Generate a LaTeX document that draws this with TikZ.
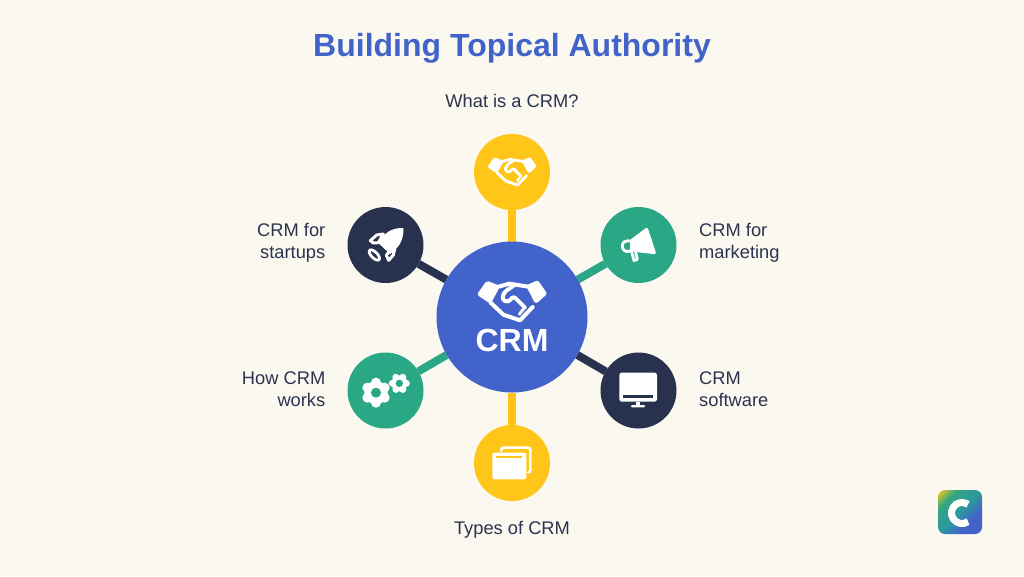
\documentclass[tikz,border=0pt]{standalone}
\usepackage{fontspec}
\setmainfont{Liberation Sans}
\usetikzlibrary{backgrounds}
\definecolor{bgc}{HTML}{FBF8F0}
\definecolor{crmblue}{HTML}{4263C9}
\definecolor{crmyellow}{HTML}{FFC519}
\definecolor{crmgreen}{HTML}{2AA785}
\definecolor{crmnavy}{HTML}{28324F}
\definecolor{txt}{HTML}{2B3350}
\pgfdeclarehorizontalshading{logoshade}{100bp}{rgb(0bp)=(1,.78,.1); rgb(15bp)=(1,.78,.1); rgb(30bp)=(.2,.65,.5); rgb(50bp)=(.17,.6,.62); rgb(66bp)=(.26,.39,.79); rgb(100bp)=(.26,.39,.79)}
\tikzset{
  hub/.style={circle,fill=#1,minimum size=76pt,inner sep=0pt,outer sep=0pt},
  link/.style={line width=8pt,draw=#1},
  lbl/.style={text=txt,font=\fontsize{18.3}{22}\selectfont,inner sep=0pt},
  wl/.style={draw=white,fill=none,line join=round,line cap=round},
}
\newcommand\hshake[3]{%
\begin{scope}[shift={(#1,#2)},scale=#3/3]
  \fill[white,draw=white,line width=#3*5pt,line join=round] (-73,-52)--(-46,-41)--(-67,-2)--(-95,-21)--cycle;
  \fill[white,draw=white,line width=#3*5pt,line join=round] (52,-43)--(75,-53)--(96,-23)--(73,-2)--cycle;
  \draw[wl,line width=#3*4pt] (-44,-42)--(-8,-52)--(49,-43);
  \draw[wl,line width=#3*4pt] (-64,5)--(-26,41)--(24,58)--(62,18);
  \draw[wl,line width=#3*4pt,rounded corners=#3*3pt] (6,-47)--(-24,-26)--(-30,-4)--(-11,4)--(4,-15)--(38,19);
  \draw[wl,line width=#3*3pt] (38,19)--(22,40);
\end{scope}}
\begin{document}
\begin{tikzpicture}[x=1pt,y=-1pt]
\useasboundingbox (0,0) rectangle (1024,576);
\node[hub=crmblue,minimum size=151pt] (crm) at (512,317) {};
\node[hub=crmyellow] (n1) at (512,172) {};
\node[hub=crmgreen] (n2) at (638.5,245) {};
\node[hub=crmnavy] (n3) at (638.5,390.5) {};
\node[hub=crmyellow] (n4) at (512,463) {};
\node[hub=crmgreen] (n5) at (385.5,390.5) {};
\node[hub=crmnavy] (n6) at (385.5,245) {};
\begin{scope}[on background layer]
  \fill[bgc] (0,0) rectangle (1024,576);
  \draw[link=crmyellow] (crm)--(n1);
  \draw[link=crmgreen] (crm)--(n2);
  \draw[link=crmnavy] (crm)--(n3);
  \draw[link=crmyellow] (crm)--(n4);
  \draw[link=crmgreen] (crm)--(n5);
  \draw[link=crmnavy] (crm)--(n6);
\end{scope}
% texts
\node[text=crmblue,font=\fontsize{32}{38}\selectfont\bfseries,inner sep=0pt] (title) at (512,48) {Building Topical Authority};
\node[text=white,font=\fontsize{32}{38}\selectfont\bfseries,inner sep=0pt] (crmt) at (512,340) {CRM};
\node[lbl] (t1) at (512,101) {What is a CRM?};
\node[lbl,anchor=west,align=left] (t2) at (699,243) {CRM for\\marketing};
\node[lbl,anchor=west,align=left] (t3) at (699,389) {CRM\\software};
\node[lbl] (t4) at (512,529.5) {Types of CRM};
\node[lbl,anchor=east,align=right] (t5) at (325.5,389) {How CRM\\works};
\node[lbl,anchor=east,align=right] (t6) at (325.5,243) {CRM for\\startups};
% handshakes
\hshake{512}{301}{1}
\hshake{512}{171.5}{0.7}
% rocket
\begin{scope}[shift={(340,200)},scale=1/3]
  \fill[white] (190,84) .. controls (155,83) and (132,98) .. (116,130) -- (150,162) .. controls (178,143) and (192,118) .. cycle;
  \draw[wl,line width=3pt] (91,122)--(110,105)--(130,102)--(115,128)--(100,129)--cycle;
  \draw[wl,line width=3pt] (164,147)--(160,165)--(146,181)--(139,166)--(145,158)--cycle;
  \draw[wl,line width=2.8pt] (103,165) ellipse[x radius=20,y radius=9,rotate=-45];
\end{scope}
% megaphone
\begin{scope}[shift={(595,200)},scale=1/3]
  \fill[white,draw=white,line width=3pt,line join=round] (110,122)--(155,88)--(178,158)--(110,150)--cycle;
  \draw[wl,line width=2.8pt] (110,124) .. controls (88,118) and (80,130) .. (82,141) .. controls (84,156) and (100,158) .. (110,150);
  \draw[wl,line width=2.8pt] (110,156)--(117,182)--(127,178)--(122,156);
\end{scope}
% gears
\begin{scope}[shift={(340,345)},scale=1/3]
  \fill[white] (108,143) circle (35);
  \foreach \a in {0,60,...,300} \fill[white] (108,143)+(\a+30:30) circle (15);
  \fill[crmgreen] (108,143) circle (15);
  \fill[white] (178,115) circle (24);
  \foreach \a in {0,60,...,300} \fill[white] (178,115)+(\a:21) circle (10.5);
  \fill[crmgreen] (178,115) circle (11);
\end{scope}
% monitor
\begin{scope}[shift={(595,345)},scale=1/3]
  \fill[white,rounded corners=2.5pt] (73,83) rectangle (186,170);
  \fill[crmnavy] (85,149) rectangle (175,158);
  \fill[white] (123,170) rectangle (135,181);
  \fill[white,rounded corners=1pt] (108,180) rectangle (150,187);
\end{scope}
% stack
\begin{scope}[shift={(467,420)},scale=1/3]
  \draw[wl,line width=2.6pt,rounded corners=2pt] (103,93)--(103,83)--(190,83)--(190,157)--(183,157);
  \fill[white,rounded corners=2pt] (76,98) rectangle (178,178);
  \fill[crmyellow] (88,109) rectangle (165,115);
\end{scope}
% logo
\path[shading=logoshade,shading angle=-45,rounded corners=7pt] (938,490) rectangle (982,534);
\draw[white,line width=7pt] (962,513)+(55:10.5) arc[start angle=55,end angle=305,radius=10.5];
\end{tikzpicture}
\end{document}
